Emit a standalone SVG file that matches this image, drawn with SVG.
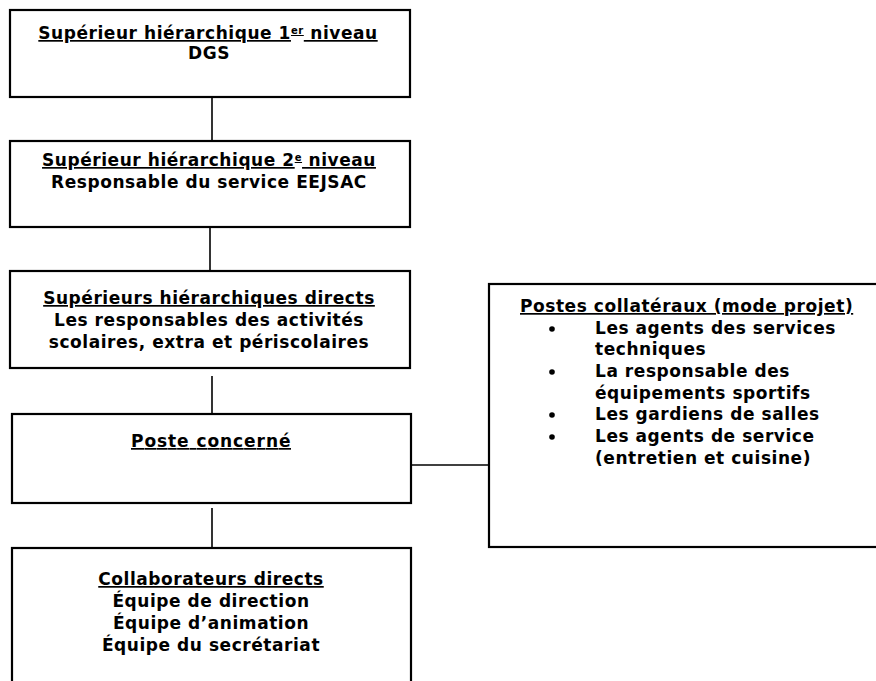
<svg xmlns="http://www.w3.org/2000/svg" width="876" height="681" viewBox="0 0 876 681">
<style>
.box{fill:#fff;stroke:#000;stroke-width:2.2}
.con{stroke:#000;stroke-width:1.6;fill:none}
text{font-family:"DejaVu Sans","Liberation Sans",sans-serif;font-size:17px;font-weight:bold;fill:#000;letter-spacing:0.55px}
.c{text-anchor:middle}
.u{text-decoration:underline}
.sup{font-size:10px}
</style>
<rect width="876" height="681" fill="#fff"/>
<g id="connectors">
<line class="con" x1="212" y1="97" x2="212" y2="141"/>
<line class="con" x1="210" y1="227" x2="210" y2="271"/>
<line class="con" x1="212" y1="376" x2="212" y2="414"/>
<line class="con" x1="212" y1="508" x2="212" y2="548"/>
<line class="con" x1="411" y1="465" x2="489" y2="465"/>
</g>
<g id="n1">
<rect class="box" x="10" y="10" width="400" height="87"/>
<text class="c u" x="208" y="39">Supérieur hiérarchique 1<tspan class="sup" dy="-5">er</tspan><tspan dy="5"> niveau</tspan></text>
<text class="c" x="209" y="59">DGS</text>
</g>
<g id="n2">
<rect class="box" x="10" y="141" width="400" height="86"/>
<text class="c u" x="209" y="166">Supérieur hiérarchique 2<tspan class="sup" dy="-5">e</tspan><tspan dy="5"> niveau</tspan></text>
<text class="c" x="209" y="188">Responsable du service EEJSAC</text>
</g>
<g id="n3">
<rect class="box" x="10" y="271" width="400" height="97"/>
<text class="c u" x="209" y="304">Supérieurs hiérarchiques directs</text>
<text class="c" x="209" y="326">Les responsables des activités</text>
<text class="c" x="209" y="348">scolaires, extra et périscolaires</text>
</g>
<g id="n4">
<rect class="box" x="12" y="414" width="399" height="89"/>
<text class="c u" x="211" y="447" textLength="160" lengthAdjust="spacing">Poste concerné</text>
</g>
<g id="n5">
<rect class="box" x="12" y="548" width="399" height="150"/>
<text class="c u" x="211" y="585">Collaborateurs directs</text>
<text class="c" x="211" y="607">Équipe de direction</text>
<text class="c" x="211" y="629">Équipe d’animation</text>
<text class="c" x="211" y="651">Équipe du secrétariat</text>
</g>
<g id="n6">
<rect class="box" x="489" y="284" width="400" height="263"/>
<text class="u" x="520" y="312">Postes collatéraux (mode projet)</text>
<circle cx="552" cy="329" r="2.8"/>
<text x="595" y="334">Les agents des services</text>
<text x="595" y="355">techniques</text>
<circle cx="552" cy="372" r="2.8"/>
<text x="595" y="377">La responsable des</text>
<text x="595" y="399">équipements sportifs</text>
<circle cx="552" cy="415" r="2.8"/>
<text x="595" y="420">Les gardiens de salles</text>
<circle cx="552" cy="437" r="2.8"/>
<text x="595" y="442">Les agents de service</text>
<text x="595" y="464">(entretien et cuisine)</text>
</g>
</svg>
